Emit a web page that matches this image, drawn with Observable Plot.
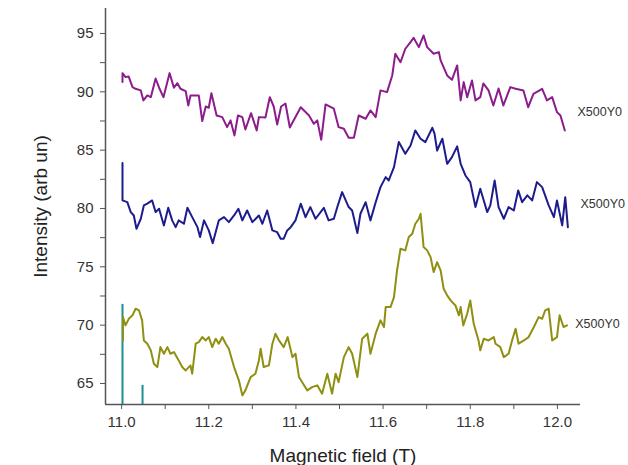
<!DOCTYPE html>
<html><head><meta charset="utf-8">
<script src="https://cdn.jsdelivr.net/npm/d3@7"></script>
<script src="https://cdn.jsdelivr.net/npm/@observablehq/plot@0.6"></script>
<style>body{margin:0;background:#fff} svg{font-family:"Liberation Sans",Arial,sans-serif}</style>
</head><body><div id="chart"></div>
<script>
// Magnetic field (T), Intensity (arb un)
const purpleSeries = [
[11.002,90.83],[11.002,91.60],[11.009,91.26],[11.016,91.32],[11.025,90.40],[11.032,90.26],[11.044,90.12],[11.050,89.26],
[11.059,89.69],[11.067,89.54],[11.078,91.14],[11.086,90.35],[11.096,89.54],[11.110,91.60],[11.120,90.35],[11.128,90.74],
[11.135,90.26],[11.147,90.06],[11.153,88.83],[11.158,89.69],[11.177,89.69],[11.185,87.49],[11.193,88.74],[11.200,88.63],
[11.206,89.88],[11.218,87.97],[11.231,87.83],[11.242,86.97],[11.250,87.55],[11.259,86.26],[11.267,87.97],[11.277,87.83],
[11.284,86.77],[11.297,88.17],[11.310,86.69],[11.315,87.83],[11.330,87.80],[11.340,89.54],[11.349,88.74],[11.357,87.20],
[11.366,88.74],[11.376,89.00],[11.386,86.94],[11.411,88.68],[11.430,87.97],[11.441,87.26],[11.449,87.55],[11.458,85.89],
[11.468,88.92],[11.487,88.55],[11.498,86.97],[11.510,86.83],[11.521,86.06],[11.533,86.06],[11.544,87.97],[11.560,87.69],
[11.571,88.40],[11.583,87.83],[11.594,90.12],[11.609,89.97],[11.621,91.40],[11.628,93.26],[11.640,92.54],[11.651,93.69],
[11.663,94.26],[11.670,94.63],[11.682,93.83],[11.693,94.83],[11.701,93.83],[11.716,93.26],[11.728,93.40],[11.732,92.69],
[11.747,91.40],[11.758,91.03],[11.770,92.26],[11.778,89.26],[11.785,90.83],[11.793,89.54],[11.804,90.97],[11.812,89.26],
[11.823,89.54],[11.830,90.72],[11.842,90.12],[11.853,88.83],[11.865,90.29],[11.876,88.83],[11.892,90.40],[11.904,90.26],
[11.922,90.12],[11.933,88.68],[11.945,89.83],[11.965,90.26],[11.976,89.26],[11.988,89.54],[11.999,88.26],[12.007,87.97],
[12.017,86.69]
];
const blueSeries = [
[11.002,83.89],[11.002,80.69],[11.013,80.54],[11.021,79.69],[11.028,79.40],[11.034,78.26],[11.044,79.12],[11.051,80.26],
[11.059,80.41],[11.070,80.69],[11.078,79.69],[11.086,79.98],[11.097,78.55],[11.107,80.06],[11.116,78.98],[11.124,78.40],
[11.131,78.98],[11.143,78.69],[11.151,80.06],[11.162,79.26],[11.174,78.40],[11.180,77.55],[11.189,78.98],[11.200,78.12],
[11.209,77.03],[11.223,78.98],[11.235,79.26],[11.246,78.83],[11.258,79.40],[11.268,79.98],[11.277,78.98],[11.288,79.83],
[11.300,78.83],[11.315,79.40],[11.323,78.69],[11.334,79.83],[11.346,78.12],[11.357,77.97],[11.365,77.41],[11.372,77.41],
[11.380,78.12],[11.388,78.40],[11.399,78.98],[11.411,80.41],[11.422,79.26],[11.433,80.12],[11.445,79.12],[11.464,80.06],
[11.475,78.98],[11.487,79.12],[11.495,80.12],[11.506,81.40],[11.521,80.12],[11.529,79.83],[11.541,77.89],[11.548,79.55],
[11.560,80.54],[11.571,78.98],[11.583,80.54],[11.594,81.83],[11.606,82.69],[11.613,82.40],[11.625,83.54],[11.636,85.69],
[11.651,84.69],[11.663,85.40],[11.674,86.69],[11.686,85.98],[11.697,85.69],[11.713,86.92],[11.718,86.41],[11.724,84.97],
[11.736,85.98],[11.747,83.83],[11.758,84.40],[11.770,85.32],[11.778,83.83],[11.789,82.83],[11.800,82.26],[11.812,80.12],
[11.823,81.69],[11.831,80.69],[11.839,79.69],[11.846,80.26],[11.856,82.40],[11.865,80.12],[11.877,79.12],[11.888,80.12],
[11.900,79.83],[11.910,81.55],[11.919,80.54],[11.931,81.12],[11.942,80.69],[11.953,82.26],[11.965,81.83],[11.980,80.26],
[11.992,79.26],[11.999,80.69],[12.011,78.55],[12.018,80.97],[12.024,78.40]
];
const oliveSeries = [
[11.003,68.69],[11.003,70.69],[11.009,69.98],[11.017,70.58],[11.025,70.84],[11.032,71.41],[11.040,71.26],[11.047,70.41],
[11.051,68.69],[11.059,68.41],[11.067,67.84],[11.074,66.70],[11.082,66.41],[11.089,68.12],[11.097,67.55],[11.105,68.12],
[11.112,67.55],[11.120,67.69],[11.131,66.98],[11.139,66.41],[11.147,66.12],[11.158,66.55],[11.162,65.84],[11.170,68.41],
[11.177,68.55],[11.185,68.98],[11.193,68.69],[11.200,68.98],[11.208,68.12],[11.216,68.84],[11.223,68.41],[11.231,68.98],
[11.239,68.41],[11.246,67.98],[11.258,66.41],[11.269,65.27],[11.277,63.98],[11.284,64.41],[11.296,65.55],[11.307,65.84],
[11.315,66.98],[11.319,67.98],[11.326,66.41],[11.338,66.55],[11.346,68.41],[11.353,69.27],[11.361,68.69],[11.372,68.12],
[11.381,68.98],[11.392,67.26],[11.399,67.55],[11.407,65.55],[11.414,65.12],[11.426,64.41],[11.437,64.69],[11.449,64.84],
[11.460,64.13],[11.472,65.84],[11.483,64.13],[11.491,65.84],[11.498,65.12],[11.510,67.26],[11.521,68.12],[11.529,67.55],
[11.541,65.55],[11.552,68.84],[11.564,69.27],[11.571,67.55],[11.583,69.27],[11.594,70.41],[11.602,69.84],[11.606,71.55],
[11.617,71.55],[11.625,72.40],[11.632,74.69],[11.640,76.55],[11.651,76.41],[11.659,77.55],[11.667,77.84],[11.674,78.69],
[11.682,79.12],[11.686,79.55],[11.693,76.69],[11.701,76.41],[11.709,75.83],[11.716,74.55],[11.724,75.40],[11.732,74.69],
[11.739,73.12],[11.747,72.55],[11.755,72.12],[11.766,71.69],[11.774,70.84],[11.778,71.55],[11.784,69.98],[11.793,70.98],
[11.800,72.12],[11.808,70.12],[11.819,68.69],[11.823,67.84],[11.831,68.84],[11.842,68.69],[11.854,68.98],[11.858,68.41],
[11.869,68.12],[11.877,67.26],[11.888,67.55],[11.896,68.69],[11.904,69.70],[11.911,68.41],[11.923,68.69],[11.934,68.98],
[11.946,69.84],[11.957,70.69],[11.965,70.55],[11.972,71.26],[11.980,71.41],[11.988,68.69],[11.999,68.98],[12.005,70.84],
[12.014,69.84],[12.022,69.98]
];
// teal spikes: field, top intensity
const spikeX = [11.002, 11.048];
const spikeTop = [71.78, 64.84];

const labelText = ["X500Y0", "X500Y0", "X500Y0"];
const labelX = [12.046, 12.053, 12.041];
const labelY = [88.23, 80.35, 70.06];

const xTicks = [11.0, 11.1, 11.2, 11.3, 11.4, 11.5, 11.6, 11.7, 11.8, 11.9, 12.0];
const yTicks = [65, 67.5, 70, 72.5, 75, 77.5, 80, 82.5, 85, 87.5, 90, 92.5, 95];
const xDomain = [10.963, 12.053];
const yDomain = [63.2, 97.14];

const spikes = spikeX.map((x, i) => ({x, top: spikeTop[i]}));
const labels = labelText.map((t, i) => ({t, x: labelX[i], y: labelY[i]}));
const axisColor = "#555";

const chart = Plot.plot({
  width: 628, height: 465,
  marginLeft: 105, marginRight: 48, marginTop: 8, marginBottom: 61,
  x: {domain: xDomain},
  y: {domain: yDomain},
  style: {fontFamily: '"Liberation Sans", Arial, sans-serif', background: "#fff"},
  marks: [
    Plot.ruleX(spikes, {x: "x", y1: yDomain[0], y2: "top", stroke: "#1a9090", strokeWidth: 2}),
    Plot.line(purpleSeries, {x: d => d[0], y: d => d[1], stroke: "#8c1c8c", strokeWidth: 2}),
    Plot.line(blueSeries, {x: d => d[0], y: d => d[1], stroke: "#1c1c8e", strokeWidth: 2}),
    Plot.line(oliveSeries, {x: d => d[0], y: d => d[1], stroke: "#8f8f12", strokeWidth: 2}),
    Plot.text(labels, {x: "x", y: "y", text: "t", textAnchor: "start", fontSize: 12.5, fill: "#333"}),
    Plot.ruleX([xDomain[0]], {stroke: axisColor, strokeWidth: 1.5}),
    Plot.ruleY([yDomain[0]], {stroke: axisColor, strokeWidth: 1.5}),
    Plot.axisX({ticks: xTicks, tickSize: 5, tickPadding: 7, stroke: axisColor, fill: "#333", fontSize: 15,
      tickFormat: d => (Math.round(d * 10) % 2 === 0 ? d.toFixed(1) : ""), label: null}),
    Plot.axisY({ticks: yTicks, tickSize: 5, tickPadding: 7, stroke: axisColor, fill: "#333", fontSize: 15,
      tickFormat: d => (d % 5 === 0 ? String(d) : ""), label: null}),
    Plot.text(["Intensity (arb un)"], {frameAnchor: "left", dx: -65, rotate: -90, textAnchor: "middle", lineAnchor: "middle", fontSize: 19, fill: "#222"}),
    Plot.text(["Magnetic field (T)"], {frameAnchor: "bottom", dy: 51, textAnchor: "middle", lineAnchor: "middle", fontSize: 19, fill: "#222"})
  ]
});
document.getElementById("chart").appendChild(chart);
</script>
</body></html>
